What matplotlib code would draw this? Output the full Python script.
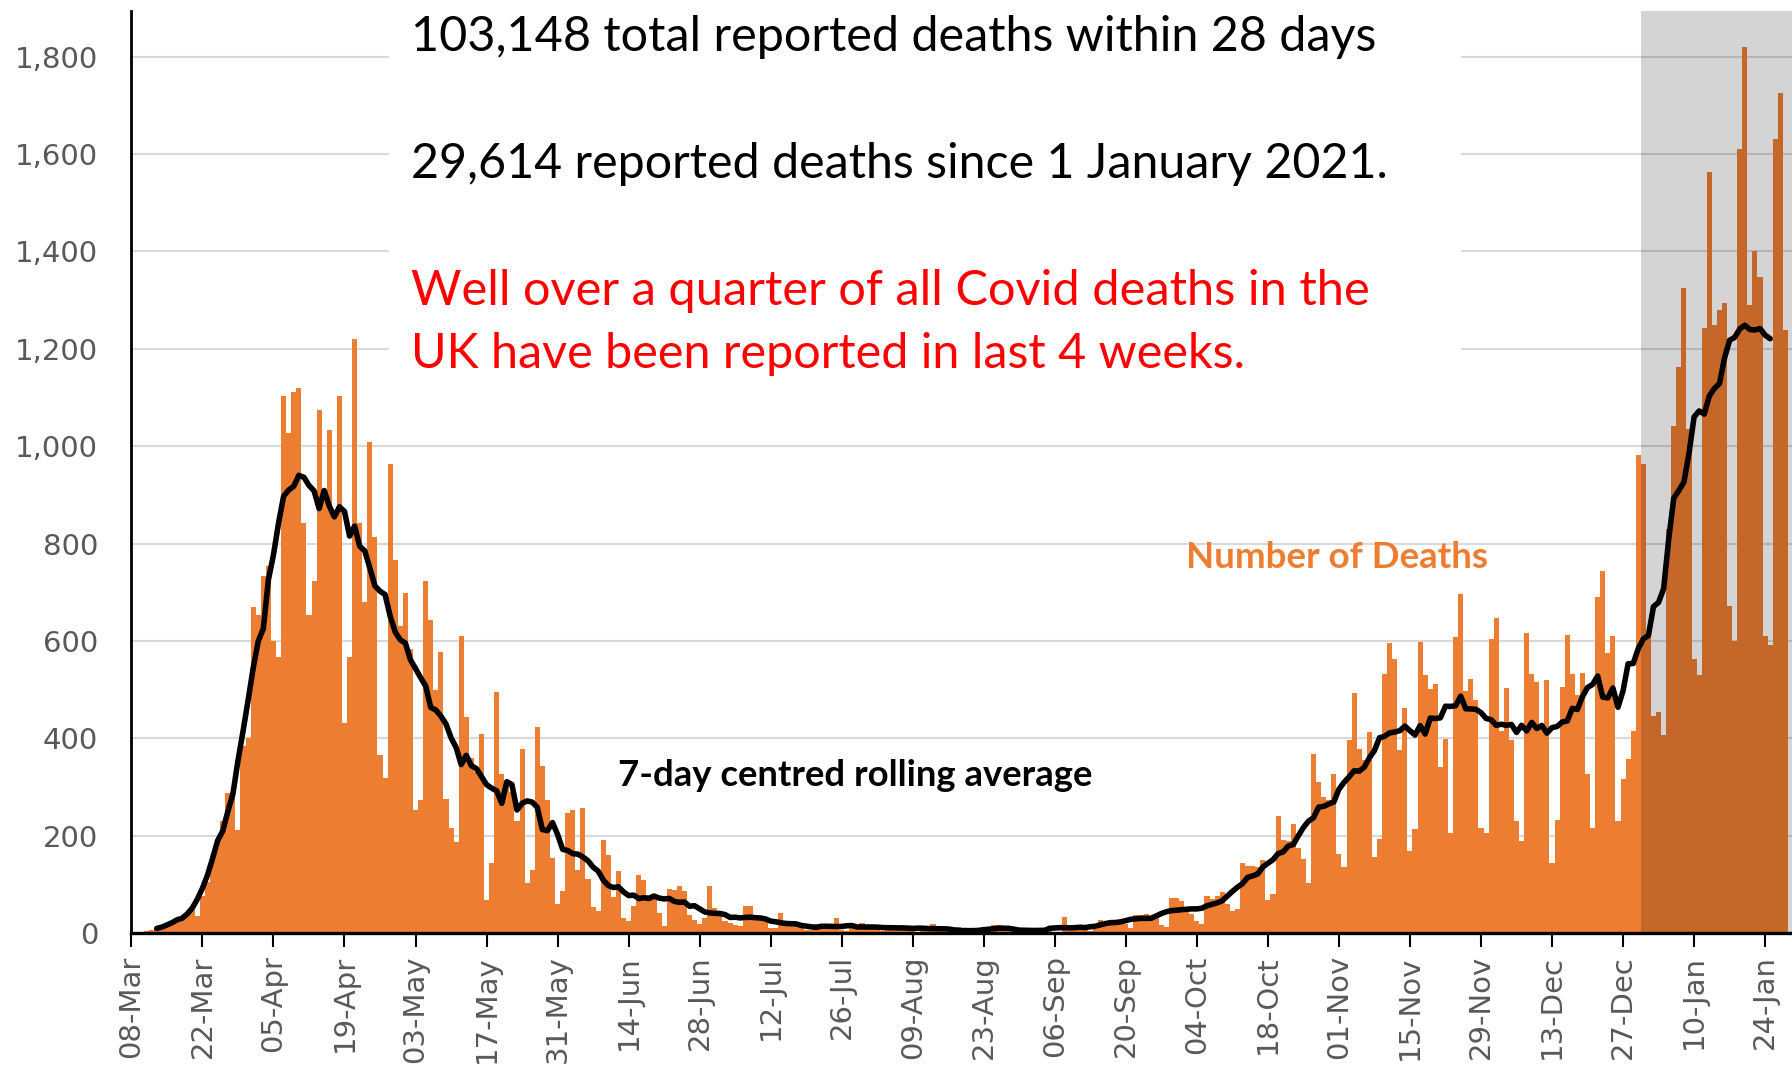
import pandas as pd
import matplotlib
matplotlib.use("Agg")
import matplotlib.pyplot as plt
import matplotlib.dates as mdates
from matplotlib.patches import Rectangle
from matplotlib.ticker import FuncFormatter

# Daily reported deaths within 28 days, starting 10 March 2020
mar = [3, 5, 6, 8, 10, 14, 20, 22, 35, 40, 48, 34, 75, 105, 150, 191, 230, 288,
       290, 212, 385, 401]
apr = [669, 654, 734, 753, 600, 566, 1103, 1027, 1111, 1120, 843, 654, 723, 1075,
       910, 1033, 865, 1103, 432, 566, 1220, 843, 679, 1008, 813, 365, 319, 964,
       767, 631]
may = [698, 583, 253, 273, 723, 642, 500, 577, 275, 216, 186, 610, 444, 360, 330,
       409, 67, 144, 496, 327, 310, 290, 230, 379, 102, 130, 424, 344, 273, 155, 60]
jun = [86, 247, 252, 130, 256, 110, 53, 45, 192, 161, 73, 128, 30, 25, 55, 119, 108,
       79, 80, 41, 14, 91, 89, 96, 86, 38, 27, 19, 30, 96]
jul = [52, 41, 24, 21, 17, 14, 55, 55, 31, 31, 24, 10, 10, 41, 24, 21, 17, 14, 7, 7,
       19, 14, 10, 10, 30, 7, 5, 17, 15, 20, 13]
aug = [10, 6, 5, 17, 13, 14, 12, 10, 4, 3, 15, 8, 18, 11, 5, 3, 3, 12, 6, 6, 2, 3,
       2, 3, 16, 16, 12, 9, 12, 1, 1]
sep = [3, 3, 10, 6, 12, 2, 3, 32, 8, 14, 6, 9, 5, 9, 27, 20, 21, 27, 27, 18, 11, 37,
       37, 40, 34, 34, 17, 13, 71, 71]
oct_ = [66, 50, 40, 25, 19, 76, 70, 77, 85, 60, 46, 50, 143, 137, 138, 136, 150, 67,
        80, 241, 191, 189, 224, 174, 151, 102, 367, 310, 280, 274, 326]
nov = [162, 136, 397, 492, 378, 355, 413, 156, 194, 532, 595, 563, 376, 462, 168,
       213, 598, 529, 501, 511, 341, 398, 206, 608, 696, 498, 521, 479, 215, 205]
dec = [603, 648, 414, 504, 397, 231, 189, 616, 533, 516, 424, 519, 144, 232, 506,
       612, 532, 489, 534, 326, 215, 691, 744, 575, 610, 230, 316, 357, 414, 981, 964]
jan = [613, 445, 454, 407, 830, 1041, 1162, 1325, 1035, 563, 529, 1243, 1564, 1248,
       1280, 1295, 671, 599, 1610, 1820, 1290, 1401, 1348, 610, 592, 1631, 1725, 1239]

deaths = mar + apr + may + jun + jul + aug + sep + oct_ + nov + dec + jan
dates = pd.date_range("2020-03-10", periods=len(deaths), freq="D")
rolling = pd.Series(deaths).rolling(7, center=True).mean()

tick_dates = pd.date_range("2020-03-08", "2021-01-24", freq="14D")
y_ticks = list(range(0, 1801, 200))

W, H = 1792, 1067
x0 = pd.Timestamp("2020-03-08")
x1 = x0 + pd.Timedelta(days=327.3)

fig = plt.figure(figsize=(W / 100, H / 100), dpi=100)
ax = fig.add_axes([131.4 / W, (H - 933) / H, 1 - 131.4 / W, (933 - 11) / H])

ax.bar(dates, deaths, width=1.0, color="#ED7D31", linewidth=0, zorder=2)
ax.plot(dates, rolling, color="black", lw=4, solid_joinstyle="round",
        solid_capstyle="round", zorder=4)

# last four weeks shaded
ax.axvspan(pd.Timestamp("2020-12-30 12:00"), x1, color="black", alpha=0.17, lw=0, zorder=3)

ax.set_xlim(x0, x1)
ax.set_ylim(0, 1894)
ax.set_yticks(y_ticks)
ax.yaxis.set_major_formatter(FuncFormatter(lambda v, p: f"{int(v):,}"))
ax.set_xticks(tick_dates)
ax.xaxis.set_major_formatter(mdates.DateFormatter("%d-%b"))

ax.yaxis.grid(True, color="#d9d9d9", lw=1.5)
ax.set_axisbelow(True)
for s in ["top", "right"]:
    ax.spines[s].set_visible(False)
ax.spines["left"].set_linewidth(2)
ax.spines["bottom"].set_linewidth(2.4)
ax.spines["bottom"].set_zorder(5)

ax.tick_params(axis="y", length=0, pad=24, labelsize=21, labelcolor="#595959")
ax.tick_params(axis="x", length=10, width=1.5, pad=6, labelsize=21,
               labelcolor="#595959", labelrotation=90)

# white box behind the headline text
ax.add_patch(Rectangle(((389 - 131.4) / (W - 131.4), (933 - 389) / 922),
                       (1461 - 389) / (W - 131.4), 1, transform=ax.transAxes,
                       facecolor="white", edgecolor="none", zorder=1))

renderer = fig.canvas.get_renderer()
fam = ["Lato", "DejaVu Sans"]


def fit_text(x, y, s, width_px, **kw):
    t = fig.text(x / W, 1 - y / H, s, va="center", ha="left", family=fam, fontsize=30, **kw)
    w = t.get_window_extent(renderer).width
    t.set_fontsize(30 * width_px / w)
    return t


fit_text(411, 37, "103,148 total reported deaths within 28 days", 966, color="black")
fit_text(411, 164, "29,614 reported deaths since 1 January 2021.", 977, color="black")
fit_text(411, 291, "Well over a quarter of all Covid deaths in the", 957, color="#FF0000")
fit_text(411, 354, "UK have been reported in last 4 weeks.", 834, color="#FF0000")
fit_text(1186, 557, "Number of Deaths", 302, color="#ED7D31", fontweight="bold")
fit_text(618, 775, "7-day centred rolling average", 475, color="black", fontweight="bold")

fig.savefig("out.png", dpi=100)
